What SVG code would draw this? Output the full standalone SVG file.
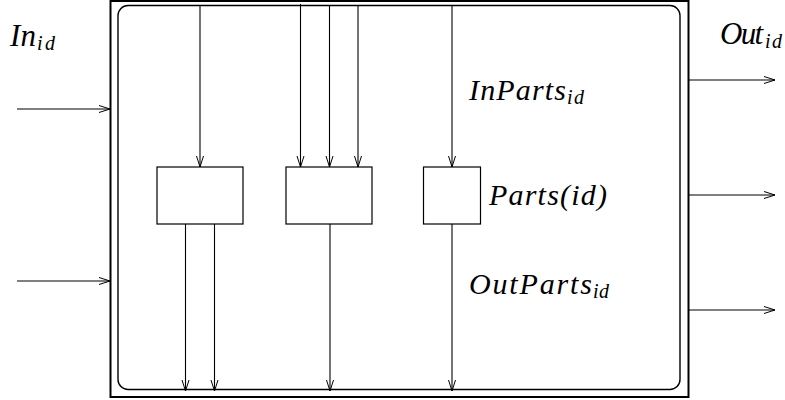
<svg xmlns="http://www.w3.org/2000/svg" width="785" height="400" viewBox="0 0 785 400">
<defs>
<style>
.ln{stroke:#000;stroke-width:1.1;fill:none}
.bx{stroke:#000;stroke-width:1.2;fill:#fff}
text{font-family:'Liberation Serif','Times New Roman',serif;font-style:italic;fill:#000}
.t{font-size:30px}
.b{font-size:31px}
.s{font-size:20px}
</style>
<marker id="ah" markerWidth="12" markerHeight="10" refX="11" refY="4" orient="auto" markerUnits="userSpaceOnUse">
<path d="M0,0.5 L11,4 L0,7.5" fill="none" stroke="#000" stroke-width="1"/>
</marker>
</defs>
<rect width="785" height="400" fill="#fff"/>
<g id="frame">
<rect x="110.5" y="1" width="578" height="396" fill="none" stroke="#000" stroke-width="2"/>
<rect x="118" y="5.5" width="562" height="384" rx="10" ry="10" fill="none" stroke="#000" stroke-width="1.4"/>
</g>
<g id="box1"><rect class="bx" x="157" y="167" width="86" height="57"/></g>
<g id="box2"><rect class="bx" x="286" y="167" width="86" height="57"/></g>
<g id="box3"><rect class="bx" x="423.5" y="167" width="57" height="57"/></g>
<g id="connectors">
<line class="ln" x1="17" y1="109" x2="110" y2="109" marker-end="url(#ah)"/>
<line class="ln" x1="17" y1="281" x2="110" y2="281" marker-end="url(#ah)"/>
<line class="ln" x1="689" y1="80" x2="775" y2="80" marker-end="url(#ah)"/>
<line class="ln" x1="689" y1="195" x2="775" y2="195" marker-end="url(#ah)"/>
<line class="ln" x1="689" y1="310" x2="775" y2="310" marker-end="url(#ah)"/>
<line class="ln" x1="200" y1="5" x2="200" y2="167" marker-end="url(#ah)"/>
<line class="ln" x1="300.5" y1="4" x2="300.5" y2="167" marker-end="url(#ah)"/>
<line class="ln" x1="329.5" y1="5" x2="329.5" y2="167" marker-end="url(#ah)"/>
<line class="ln" x1="358" y1="5" x2="358" y2="167" marker-end="url(#ah)"/>
<line class="ln" x1="452" y1="5" x2="452" y2="167" marker-end="url(#ah)"/>
<line class="ln" x1="185.5" y1="224" x2="185.5" y2="391" marker-end="url(#ah)"/>
<line class="ln" x1="214.5" y1="224" x2="214.5" y2="391" marker-end="url(#ah)"/>
<line class="ln" x1="330" y1="224" x2="330" y2="391" marker-end="url(#ah)"/>
<line class="ln" x1="452" y1="224" x2="452" y2="391" marker-end="url(#ah)"/>
</g>
<g id="labels">
<text class="b" x="10" y="46"><tspan textLength="26" lengthAdjust="spacing">In</tspan><tspan class="s" x="37" y="50" textLength="18" lengthAdjust="spacing">id</tspan></text>
<text class="b" x="720" y="43.5"><tspan textLength="43" lengthAdjust="spacing">Out</tspan><tspan class="s" x="765" y="48" textLength="17" lengthAdjust="spacing">id</tspan></text>
<text class="t" x="469" y="100"><tspan textLength="97" lengthAdjust="spacing">InParts</tspan><tspan class="s" x="567" y="104" textLength="17" lengthAdjust="spacing">id</tspan></text>
<text class="t" x="489" y="205" textLength="118" lengthAdjust="spacing">Parts(id)</text>
<text class="t" x="469" y="294"><tspan textLength="123" lengthAdjust="spacing">OutParts</tspan><tspan class="s" x="593" y="298" textLength="16" lengthAdjust="spacing">id</tspan></text>
</g>
</svg>
